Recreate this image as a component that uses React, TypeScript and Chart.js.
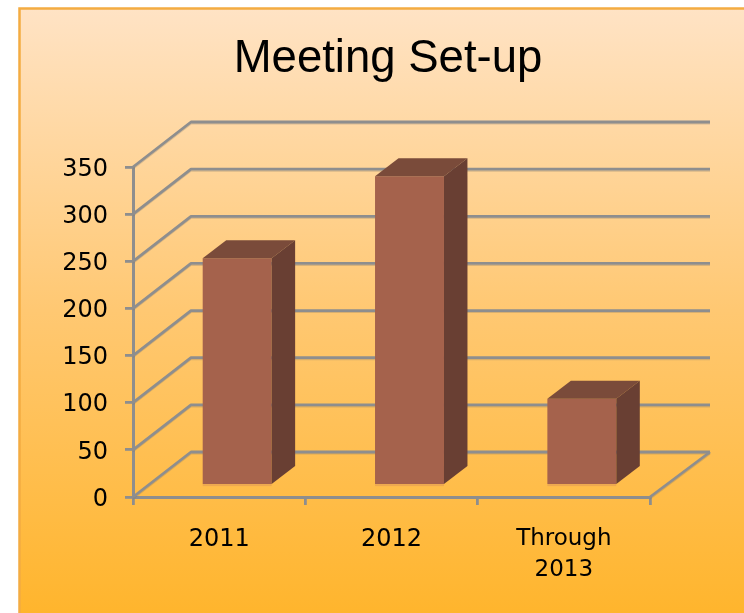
import React, { useEffect, useRef } from "react";
import { Chart, registerables } from "chart.js";

Chart.register(...registerables);

const categories: (string | string[])[] = ["2011", "2012", ["Through", "2013"]];
const meetingSetups = [241, 328, 92];
const yTicks = [0, 50, 100, 150, 200, 250, 300, 350];
const titleText = "Meeting Set-up";

const GRID = "#8e8e8e";
const GRID_SHADE = "rgba(125,120,110,0.3)";
const WALL_DX_LEFT = 58;
const WALL_DX_RIGHT = 60;
const WALL_DY = 45;
const BAR_SHIFT_X = 18;
const BAR_SHIFT_Y = -11.5;
const BAR_DX = 23.5;
const BAR_DY = 18;
const Y_LABEL_NUDGE = 2.5;

const panelPlugin = {
  id: "panel",
  beforeDraw(chart: any) {
    const { ctx, width, height } = chart;
    ctx.save();
    ctx.fillStyle = "#ffffff";
    ctx.fillRect(0, 0, width, height);
    const g = ctx.createLinearGradient(0, 8, 0, height);
    g.addColorStop(0, "#FFE3C5");
    g.addColorStop(0.5, "#FFC872");
    g.addColorStop(1, "#FFB52D");
    ctx.fillStyle = g;
    ctx.fillRect(19, 8, width - 19, height - 8);
    ctx.strokeStyle = "#F4AC42";
    ctx.lineWidth = 2.5;
    ctx.beginPath();
    ctx.moveTo(19.5, height);
    ctx.lineTo(19.5, 8.5);
    ctx.lineTo(width, 8.5);
    ctx.stroke();
    ctx.restore();
  },
};

function strokePath(ctx: any, pts: number[][], color: string, w: number, dy = 0) {
  ctx.strokeStyle = color;
  ctx.lineWidth = w;
  ctx.beginPath();
  pts.forEach(([x, y], i) => (i ? ctx.lineTo(x, y + dy) : ctx.moveTo(x, y + dy)));
  ctx.stroke();
}

const depthPlugin = {
  id: "depth",
  afterUpdate(chart: any) {
    chart.scales.y.getLabelItems().forEach((item: any) => {
      item.textOffset += Y_LABEL_NUDGE;
    });
  },
  beforeDatasetsDraw(chart: any) {
    const { ctx, chartArea, scales } = chart;
    const { left, right, bottom } = chartArea;
    ctx.save();
    ctx.lineJoin = "round";
    yTicks.forEach((v) => {
      const y = scales.y.getPixelForValue(v);
      const pts = [
        [left, y],
        [left + WALL_DX_LEFT, y - WALL_DY],
        [right + WALL_DX_RIGHT, y - WALL_DY],
      ];
      strokePath(ctx, pts, GRID_SHADE, 1.5, 1.8);
      strokePath(ctx, pts, GRID, 2.8);
    });
    const floor = [
      [right, bottom],
      [right + WALL_DX_RIGHT, bottom - WALL_DY],
    ];
    strokePath(ctx, floor, GRID_SHADE, 1.5, 1.8);
    strokePath(ctx, floor, GRID, 2.8);
    ctx.restore();
    ctx.save();
    ctx.translate(BAR_SHIFT_X, BAR_SHIFT_Y);
  },
  afterDatasetsDraw(chart: any) {
    const { ctx } = chart;
    chart.getDatasetMeta(0).data.forEach((bar: any) => {
      const l = bar.x - bar.width / 2;
      const r = bar.x + bar.width / 2;
      const t = bar.y;
      const b = bar.base;
      ctx.fillStyle = "#7A4B3A";
      ctx.beginPath();
      ctx.moveTo(l, t);
      ctx.lineTo(l + BAR_DX, t - BAR_DY);
      ctx.lineTo(r + BAR_DX, t - BAR_DY);
      ctx.lineTo(r, t);
      ctx.closePath();
      ctx.fill();
      ctx.fillStyle = "#693F33";
      ctx.beginPath();
      ctx.moveTo(r, t);
      ctx.lineTo(r + BAR_DX, t - BAR_DY);
      ctx.lineTo(r + BAR_DX, b - BAR_DY);
      ctx.lineTo(r, b);
      ctx.closePath();
      ctx.fill();
      ctx.fillStyle = "#EDA850";
      ctx.fillRect(l, b, r - l, 2);
    });
    ctx.restore();
  },
};

export default function App() {
  const ref = useRef<HTMLCanvasElement>(null);
  useEffect(() => {
    const chart = new Chart(ref.current!, {
      type: "bar",
      data: {
        labels: categories as any,
        datasets: [
          {
            label: titleText,
            data: meetingSetups,
            backgroundColor: "#A5624C",
            borderWidth: 0,
            barPercentage: 0.4,
            categoryPercentage: 1,
            clip: false as any,
          },
        ],
      },
      options: {
        animation: false,
        responsive: false,
        layout: { autoPadding: false, padding: { left: 32, right: 0, top: 0, bottom: 0 } },
        plugins: {
          legend: { display: false },
          tooltip: { enabled: false },
          title: {
            display: true,
            text: titleText,
            color: "#000000",
            font: { family: "'Liberation Sans'", size: 45.5, weight: "normal", lineHeight: 1.2 },
            padding: { top: 32, bottom: 80.4 },
          },
        },
        scales: {
          x: {
            grid: {
              display: true,
              drawOnChartArea: false,
              drawTicks: true,
              tickLength: 8,
              color: GRID,
              lineWidth: 2.8,
            },
            border: { display: true, color: GRID, width: 3 },
            ticks: {
              color: "#000000",
              padding: 19,
              maxRotation: 0,
              autoSkip: false,
              font: (c: any) => ({
                family: "'DejaVu Sans'",
                size: c.index === 2 ? 23 : 24,
                lineHeight: 1.33,
              }),
            },
            afterFit: (s: any) => {
              s.height = 116;
            },
          },
          y: {
            min: 0,
            max: 350,
            afterBuildTicks: (s: any) => {
              s.ticks = yTicks.map((value) => ({ value }));
            },
            grid: {
              display: true,
              drawOnChartArea: false,
              drawTicks: true,
              tickLength: 8,
              color: GRID,
              lineWidth: 2.8,
            },
            border: { display: true, color: GRID, width: 3 },
            ticks: {
              color: "#000000",
              padding: 17,
              font: { family: "'DejaVu Sans'", size: 24 },
            },
            afterFit: (s: any) => {
              s.width = 101;
            },
          },
          spacer: {
            type: "linear",
            position: "right",
            display: true,
            grid: { display: false },
            border: { display: false },
            ticks: { display: false },
            afterFit: (s: any) => {
              s.width = 94;
            },
          },
        },
      },
      plugins: [panelPlugin, depthPlugin],
    } as any);
    return () => chart.destroy();
  }, []);
  return (
    <div style={{ position: "fixed", left: 0, top: 0, width: 744, height: 613 }}>
      <canvas ref={ref} width={744} height={613} style={{ display: "block" }} />
    </div>
  );
}
